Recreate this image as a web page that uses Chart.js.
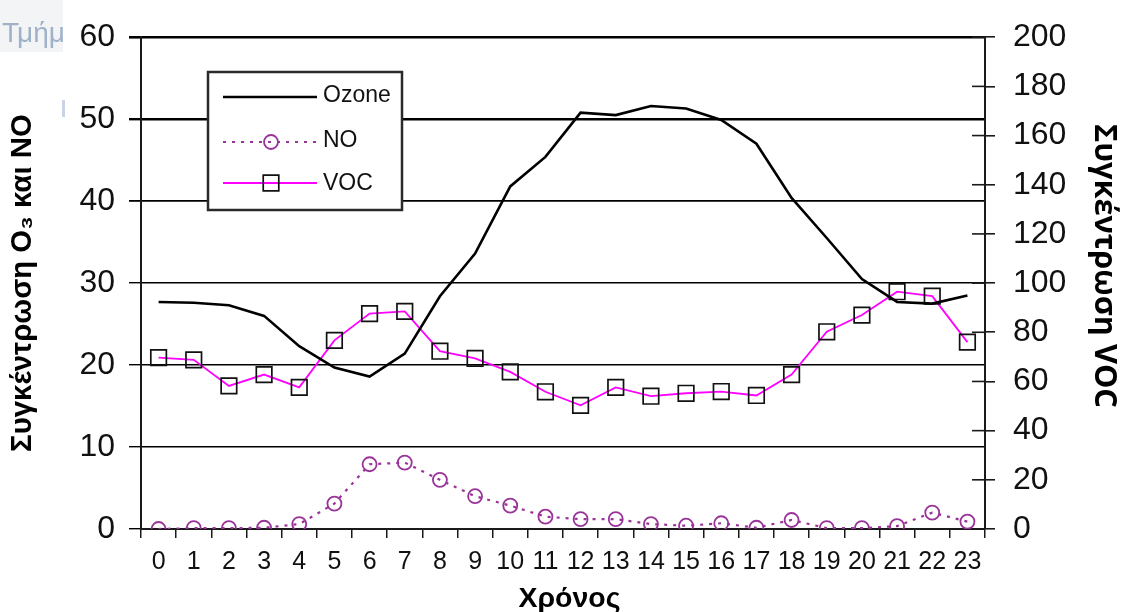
<!DOCTYPE html>
<html>
<head>
<meta charset="utf-8">
<script src="https://cdn.jsdelivr.net/npm/chart.js@4.4.1/dist/chart.umd.min.js"></script>
<style>
  html, body { margin: 0; padding: 0; background: #ffffff; }
  #wrap { width: 1123px; height: 612px; position: relative; }
</style>
</head>
<body>
<div id="wrap"><canvas id="c" width="1123" height="612"></canvas></div>
<script>
// ---- data ----
const hours = ['0','1','2','3','4','5','6','7','8','9','10','11','12','13','14','15','16','17','18','19','20','21','22','23'];
const ozone = [27.7, 27.6, 27.3, 26.0, 22.3, 19.7, 18.6, 21.4, 28.4, 33.6, 41.8, 45.4, 50.8, 50.5, 51.6, 51.3, 49.9, 47.0, 40.4, 35.5, 30.5, 27.7, 27.5, 28.5];
const no = [0.0, 0.1, 0.1, 0.15, 0.6, 3.1, 7.9, 8.1, 6.0, 4.0, 2.85, 1.5, 1.2, 1.2, 0.6, 0.4, 0.7, 0.15, 1.1, 0.1, 0.1, 0.35, 2.0, 0.9];
const voc = [69.7, 68.8, 58.2, 62.8, 57.6, 76.7, 87.6, 88.5, 72.3, 69.4, 63.9, 55.8, 50.3, 57.6, 54.0, 55.2, 55.9, 54.3, 62.8, 80.2, 87.0, 96.5, 94.7, 76.0];
const seriesNames = ['Ozone', 'NO', 'VOC'];
const leftTitle = 'Συγκέντρωση O₃ και NO';
const rightTitle = 'Συγκέντρωση VOC';
const xTitle = 'Χρόνος';

function fitFont(ctx, text, family, target) {
  ctx.font = 'bold 100px ' + family;
  const w = ctx.measureText(text).width;
  return 100 * target / w;
}

const decor = {
  id: 'decor',
  beforeDraw(chart) {
    const ctx = chart.ctx;
    ctx.save();
    ctx.fillStyle = '#ffffff';
    ctx.fillRect(0, 0, chart.width, chart.height);
    ctx.fillStyle = '#f3f4f6';
    ctx.fillRect(0, 0, 63, 52);
    ctx.fillStyle = '#c9d5e5';
    ctx.fillRect(62, 100, 3, 17);
    ctx.beginPath();
    ctx.rect(0, 0, 63, 52);
    ctx.clip();
    ctx.fillStyle = '#9fb2ca';
    ctx.font = '28px "Liberation Sans", Arial, sans-serif';
    ctx.textBaseline = 'alphabetic';
    ctx.fillText('Τμήμ', 2, 42);
    ctx.restore();
  },
  afterDraw(chart) {
    const ctx = chart.ctx;
    const s = chart.scales.y2;
    ctx.save();
    ctx.strokeStyle = '#1a1a1a';
    ctx.lineWidth = 1.6;
    s.ticks.forEach(t => {
      const y = s.getPixelForValue(t.value);
      ctx.beginPath();
      ctx.moveTo(s.left - 13, y);
      ctx.lineTo(s.left, y);
      ctx.stroke();
    });
    ctx.restore();

    // axis titles
    const ca = chart.chartArea;
    ctx.save();
    ctx.fillStyle = '#000000';
    ctx.textAlign = 'center';
    ctx.textBaseline = 'alphabetic';
    const famL = '"Liberation Sans", Arial, sans-serif';
    let sz = fitFont(ctx, leftTitle, famL, 338);
    ctx.font = 'bold ' + sz + 'px ' + famL;
    ctx.save();
    ctx.translate(24 + 0.253 * sz, (ca.top + ca.bottom) / 2);
    ctx.rotate(-Math.PI / 2);
    ctx.fillText(leftTitle, 0, 0);
    ctx.restore();

    const famR = '"Open Sans", "Liberation Sans", sans-serif';
    sz = fitFont(ctx, rightTitle, famR, 284);
    ctx.font = 'bold ' + sz + 'px ' + famR;
    ctx.save();
    ctx.translate(1103 - 0.26 * sz, 266);
    ctx.rotate(Math.PI / 2);
    ctx.fillText(rightTitle, 0, 0);
    ctx.restore();

    sz = fitFont(ctx, xTitle, famL, 102);
    ctx.font = 'bold ' + sz + 'px ' + famL;
    ctx.fillText(xTitle, 569.5, 587 + 0.716 * sz);
    ctx.restore();

    // legend box
    const L = 208, T = 72, R = 402, B = 210;
    ctx.save();
    ctx.fillStyle = '#ffffff';
    ctx.fillRect(L, T, R - L, B - T);
    ctx.strokeStyle = '#2a2a2a';
    ctx.lineWidth = 2.5;
    ctx.strokeRect(L, T, R - L, B - T);
    const rows = [97, 142, 183];
    const baselines = [102, 147, 190];
    chart.data.datasets.forEach((ds, i) => {
      const y = rows[i];
      ctx.save();
      ctx.strokeStyle = ds.borderColor;
      ctx.lineWidth = ds.borderWidth;
      ctx.setLineDash(ds.borderDash || []);
      ctx.beginPath();
      ctx.moveTo(223, y);
      ctx.lineTo(317, y);
      ctx.stroke();
      ctx.restore();
      if (ds.pointRadius > 0) {
        ctx.save();
        ctx.strokeStyle = ds.pointBorderColor;
        ctx.fillStyle = 'rgba(0,0,0,0)';
        ctx.lineWidth = ds.pointBorderWidth;
        Chart.helpers.drawPoint(ctx, {pointStyle: ds.pointStyle, radius: ds.pointRadius, borderWidth: ds.pointBorderWidth, rotation: 0}, 271, y);
        ctx.restore();
      }
      ctx.fillStyle = '#111111';
      ctx.font = '23px "Liberation Sans", Arial, sans-serif';
      ctx.textBaseline = 'alphabetic';
      ctx.textAlign = 'left';
      ctx.fillText(ds.label, 323, baselines[i]);
    });
    ctx.restore();
  }
};

const tickFontY = { family: '"Liberation Sans", Arial, sans-serif', size: 32 };
const tickFontX = { family: '"Liberation Sans Narrow", "Liberation Sans", Arial, sans-serif', size: 25 };

new Chart(document.getElementById('c'), {
  type: 'line',
  data: {
    labels: hours,
    datasets: [
      {
        label: seriesNames[0], data: ozone, yAxisID: 'y',
        borderColor: '#000000', borderWidth: 2.6, pointRadius: 0, tension: 0, fill: false
      },
      {
        label: seriesNames[1], data: no, yAxisID: 'y',
        borderColor: '#993399', borderWidth: 2.2, borderDash: [3, 6], tension: 0, fill: false,
        pointStyle: 'circle', pointRadius: 7, pointBorderWidth: 1.8,
        pointBorderColor: '#993399', pointBackgroundColor: 'rgba(0,0,0,0)'
      },
      {
        label: seriesNames[2], data: voc, yAxisID: 'y2',
        borderColor: '#ff00ff', borderWidth: 1.8, tension: 0, fill: false,
        pointStyle: 'rect', pointRadius: 11, pointBorderWidth: 1.7,
        pointBorderColor: '#111111', pointBackgroundColor: 'rgba(0,0,0,0)'
      }
    ]
  },
  options: {
    responsive: false,
    animation: false,
    devicePixelRatio: 1,
    layout: { padding: { top: 23, left: 0, right: 0, bottom: 0 } },
    plugins: { legend: { display: false }, tooltip: { enabled: false } },
    scales: {
      x: {
        type: 'category',
        offset: true,
        afterFit(s) { s.height = 83; },
        grid: { offset: true, drawOnChartArea: false, drawTicks: true, tickLength: 9, color: '#1a1a1a', lineWidth: 1.5 },
        border: { display: true, color: '#1a1a1a', width: 2 },
        ticks: { font: tickFontX, color: '#111111', padding: 9, maxRotation: 0, autoSkip: false },
        title: { display: false, text: xTitle }
      },
      y: {
        position: 'left',
        min: 0, max: 60,
        afterFit(s) { s.width = 141; },
        ticks: { stepSize: 10, font: tickFontY, color: '#111111', padding: 14 },
        grid: {
          color: '#000000',
          tickLength: 12,
          lineWidth: (c) => {
            const v = c.tick ? c.tick.value : 0;
            return v === 60 ? 2.6 : v === 50 ? 2.4 : v === 40 ? 1.8 : 1.4;
          }
        },
        border: { display: true, color: '#1a1a1a', width: 2 },
        title: { display: false, text: leftTitle }
      },
      y2: {
        position: 'right',
        min: 0, max: 200,
        afterFit(s) { s.width = 138; },
        ticks: { stepSize: 20, font: tickFontY, color: '#111111', padding: 18 },
        grid: { drawOnChartArea: false, color: '#1a1a1a', lineWidth: 1.6, tickLength: 10 },
        border: { display: true, color: '#1a1a1a', width: 2 },
        title: { display: false, text: rightTitle }
      }
    }
  },
  plugins: [decor]
});
</script>
</body>
</html>
